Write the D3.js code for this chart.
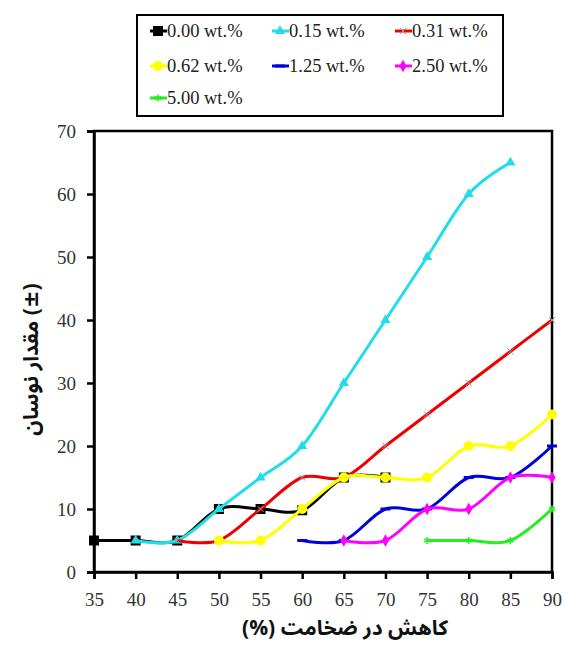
<!DOCTYPE html>
<html><head><meta charset="utf-8">
<script src="https://cdn.jsdelivr.net/npm/d3@7/dist/d3.min.js"></script>
<style>body{margin:0;background:#fff}svg{display:block}</style>
</head><body>
<script>
const seriesNames = ["0.00 wt.%","0.15 wt.%","0.31 wt.%","0.62 wt.%","1.25 wt.%","2.50 wt.%","5.00 wt.%"];
const seriesColors = ["#000000","#22dde8","#ee0000","#ffff00","#0000dd","#ff00ff","#22ee22"];
const seriesX = [
  [35,40,45,50,55,60,65,70],
  [40,45,50,55,60,65,70,75,80,85],
  [45,50,55,60,65,70,75,80,85,90],
  [50,55,60,65,70,75,80,85,90],
  [60,65,70,75,80,85,90],
  [65,70,75,80,85,90],
  [75,80,85,90]
];
const seriesY = [
  [5,5,5,10,10,9.8,15,15],
  [5,5,10,15,20,30,40,50,60,65],
  [5,5,10,15,15,20,25,30,35,40],
  [5,5,10,15,15,15,20,20,25],
  [5,5,10,10,15,15,20],
  [5,5,10,10,15,15],
  [5,5,5,10]
];
const xTicks = [35,40,45,50,55,60,65,70,75,80,85,90];
const yTicks = [0,10,20,30,40,50,60,70];
const xTitle = "کاهش در ضخامت (%)";
const yTitle = "مقدار نوسان (±)";

const W=565,H=648;
const L=94,R=552,T=131,B=572;
const svg=d3.select("body").append("svg").attr("width",W).attr("height",H);
const x=d3.scaleLinear().domain([35,90]).range([L,R]);
const y=d3.scaleLinear().domain([0,70]).range([B,T]);

svg.append("rect").attr("x",L).attr("y",T).attr("width",R-L).attr("height",B-T)
  .attr("fill","none").attr("stroke","#000").attr("stroke-width",2.5);

const xa=svg.append("g").attr("transform",`translate(0,${B})`)
  .call(d3.axisBottom(x).tickValues(xTicks).tickSize(7).tickPadding(14));
const ya=svg.append("g").attr("transform",`translate(${L},0)`)
  .call(d3.axisLeft(y).tickValues(yTicks).tickSize(7).tickPadding(11));
[xa,ya].forEach(a=>{
  a.select(".domain").attr("stroke","#000").attr("stroke-width",2.5);
  a.selectAll(".tick line").attr("stroke","#000").attr("stroke-width",2.5);
  a.selectAll(".tick text").attr("font-family","'Liberation Serif','DejaVu Serif',serif")
    .attr("font-size",19).attr("fill","#333");
});

const line=d3.line().x(d=>x(d[0])).y(d=>y(d[1])).curve(d3.curveCatmullRom.alpha(0));

function marker(g,i,cx,cy,s){
  const c=seriesColors[i];
  if(i===0){g.append("rect").attr("x",cx-s).attr("y",cy-s).attr("width",2*s).attr("height",2*s).attr("fill","#000");}
  else if(i===1){g.append("path").attr("d",d3.symbol(d3.symbolTriangle,s*s*2.2)()).attr("transform",`translate(${cx},${cy})`).attr("fill",c);}
  else if(i===2){g.append("path").attr("d",`M${cx-3},${cy-3}L${cx+3},${cy+3}M${cx-3},${cy+3}L${cx+3},${cy-3}`).attr("stroke","#999").attr("stroke-width",1);}
  else if(i===3){g.append("circle").attr("cx",cx).attr("cy",cy).attr("r",s).attr("fill",c);}
  else if(i===4){g.append("path").attr("d",`M${cx-s},${cy}L${cx+s},${cy}`).attr("stroke",c).attr("stroke-width",3);}
  else if(i===5){g.append("path").attr("d",d3.symbol(d3.symbolDiamond,s*s*2.2)()).attr("transform",`translate(${cx},${cy})`).attr("fill",c);}
  else {g.append("path").attr("d",d3.symbol(d3.symbolAsterisk,s*s*2)()).attr("transform",`translate(${cx},${cy})`).attr("stroke",c).attr("stroke-width",1.5);}
}
const msize=[5,4.5,3,5,5,4.5,4];

seriesNames.forEach((n,i)=>{
  const pts=seriesX[i].map((v,j)=>[v,seriesY[i][j]]);
  const g=svg.append("g");
  g.append("path").datum(pts).attr("d",line).attr("fill","none")
    .attr("stroke",seriesColors[i]).attr("stroke-width",3);
  pts.forEach(p=>marker(g,i,x(p[0]),y(p[1]),msize[i]));
});

// legend
svg.append("rect").attr("x",137).attr("y",15).attr("width",366).attr("height",101)
  .attr("fill","#fff").attr("stroke","#000").attr("stroke-width",2);
const lx=[150,272,395], ly=[31,66,98];
seriesNames.forEach((n,i)=>{
  const cx=lx[i%3], cy=ly[Math.floor(i/3)];
  const g=svg.append("g");
  g.append("line").attr("x1",cx).attr("x2",cx+17).attr("y1",cy).attr("y2",cy)
    .attr("stroke",seriesColors[i]).attr("stroke-width",3);
  marker(g,i,cx+8,cy,msize[i]);
  g.append("text").attr("x",cx+17).attr("y",cy+6).text(n)
    .attr("font-family","'Liberation Serif','DejaVu Serif',serif").attr("font-size",18.5).attr("fill","#222");
});

svg.append("text").attr("x",(L+R)/2+22).attr("y",635).attr("text-anchor","middle")
  .attr("direction","rtl").attr("font-family","'Noto Sans Arabic','DejaVu Sans',sans-serif").attr("font-weight","bold")
  .attr("font-size",21).attr("fill","#111").text(xTitle);
svg.append("text").attr("transform",`translate(38,${(T+B)/2+8}) rotate(-90)`).attr("text-anchor","middle")
  .attr("font-family","'Noto Sans Arabic','DejaVu Sans',sans-serif").attr("font-weight","bold")
  .attr("font-size",21).attr("fill","#111").text(yTitle);
</script>
</body></html>
